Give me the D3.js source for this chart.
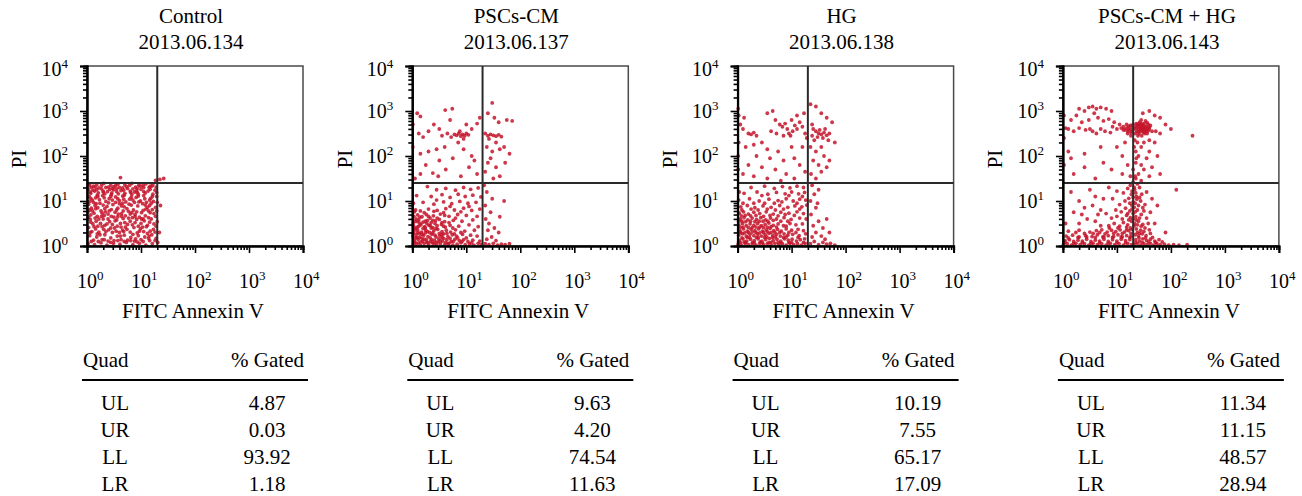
<!DOCTYPE html>
<html>
<head>
<meta charset="utf-8">
<script src="https://cdn.jsdelivr.net/npm/d3@7"></script>
<style>
  body { margin: 0; background: #fff; }
  svg { display: block; font-family: "Liberation Serif", "DejaVu Serif", serif; }
</style>
</head>
<body>
<svg></svg>
<script>
var svg = d3.select("svg")
            .attr("width", 1302)
            .attr("height", 496);

// panel titles and sample ids
var panelNames = ["Control", "PSCs-CM", "HG", "PSCs-CM + HG"];
var panelIds = ["2013.06.134", "2013.06.137", "2013.06.138", "2013.06.143"];

// quadrant table
var quadLabels = ["UL", "UR", "LL", "LR"];
var gatedControl = ["4.87", "0.03", "93.92", "1.18"];
var gatedPscs = ["9.63", "4.20", "74.54", "11.63"];
var gatedHG = ["10.19", "7.55", "65.17", "17.09"];
var gatedPscsHG = ["11.34", "11.15", "48.57", "28.94"];

// axis decades and gates (FITC / PI)
var decadeExp = [0, 1, 2, 3, 4];
var gateX = 20, gateY = 25;

// events, as [log10 FITC, log10 PI]
var dotsControl = [
 [0.05,1.38],[0.18,1.36],[0.31,1.39],[0.44,1.35],[0.57,1.37],[0.7,1.36],[0.83,1.39],[0.96,1.35],[1.09,1.38],[1.22,1.36],[0.12,1.33],[0.5,1.32],[0.9,1.31],[1.15,1.3],
 [0.02,1.26],[0.14,1.22],[0.27,1.27],[0.38,1.21],[0.49,1.25],[0.63,1.23],[0.75,1.28],[0.88,1.2],[1.0,1.26],[1.13,1.22],[1.26,1.24],[0.21,1.18],[0.58,1.16],[0.95,1.15],
 [0.04,1.1],[0.16,1.07],[0.29,1.12],[0.41,1.05],[0.53,1.09],[0.66,1.11],[0.79,1.04],[0.91,1.08],[1.05,1.12],[1.18,1.06],[1.29,1.1],[0.1,1.02],[0.35,0.99],[0.72,0.98],[1.1,0.97],
 [0.03,0.93],[0.15,0.9],[0.24,0.95],[0.37,0.88],[0.48,0.92],[0.6,0.94],[0.69,0.87],[0.82,0.91],[0.94,0.89],[1.03,0.94],[1.16,0.9],[1.27,0.86],[0.08,0.84],[0.45,0.81],[0.86,0.8],
 [0.02,0.76],[0.13,0.73],[0.26,0.78],[0.39,0.71],[0.52,0.75],[0.64,0.72],[0.77,0.77],[0.89,0.7],[1.01,0.74],[1.14,0.78],[1.24,0.72],[0.19,0.66],[0.57,0.65],[0.97,0.64],
 [0.06,0.59],[0.17,0.55],[0.3,0.6],[0.42,0.54],[0.55,0.58],[0.67,0.61],[0.8,0.55],[0.92,0.59],[1.06,0.56],[1.19,0.6],[1.3,0.54],[0.11,0.49],[0.47,0.48],[0.84,0.47],[1.12,0.46],
 [0.03,0.41],[0.16,0.38],[0.28,0.43],[0.4,0.36],[0.51,0.4],[0.63,0.42],[0.74,0.37],[0.87,0.41],[0.99,0.38],[1.1,0.43],[1.23,0.37],[0.22,0.31],[0.6,0.3],[0.93,0.29],
 [0.05,0.23],[0.18,0.2],[0.33,0.25],[0.44,0.18],[0.56,0.22],[0.69,0.24],[0.81,0.19],[0.95,0.23],[1.07,0.2],[1.2,0.25],[1.28,0.17],[0.12,0.13],[0.5,0.12],[0.88,0.11],
 [0.02,0.05],[0.14,0.03],[0.26,0.07],[0.37,0.02],[0.49,0.06],[0.61,0.04],[0.73,0.08],[0.85,0.03],[0.97,0.06],[1.09,0.02],[1.21,0.05],[1.31,0.08],
 [1.35,1.48],[1.42,1.5],[0.62,1.52],[1.27,1.46],[1.34,0.3],[1.36,0.9],
 [0.08,1.3],[0.22,1.29],[0.35,1.3],[0.47,1.28],[0.6,1.3],[0.73,1.32],[0.85,1.27],[0.99,1.33],[1.2,1.33],[0.07,1.17],[0.33,1.16],[0.45,1.14],[0.7,1.17],[0.83,1.14],[1.08,1.18],[1.22,1.15],
 [0.23,1.03],[0.47,1.02],[0.6,1.01],[0.85,1.02],[0.99,1.0],[1.23,0.99],[0.2,0.85],[0.33,0.83],[0.57,0.84],[0.74,0.83],[1.09,0.82],[1.21,0.81],[0.07,0.69],[0.32,0.68],[0.45,0.66],[0.71,0.67],
 [0.84,0.63],[1.08,0.67],[0.25,0.5],[0.37,0.49],[0.62,0.5],[0.75,0.48],[1.0,0.5],[1.24,0.49],[0.09,0.32],[0.35,0.32],[0.47,0.3],[0.8,0.31],[1.05,0.32],[1.17,0.33],[0.28,0.14],[0.39,0.11],
 [0.63,0.14],[0.75,0.13],[1.0,0.14],[1.16,0.12],
 [0.11,1.24],[0.3,1.2],[0.55,1.27],[0.8,1.22],[1.05,1.3],[0.2,1.1],[0.46,1.18],[0.68,1.04],[0.93,1.19],[1.16,1.02],[0.12,0.97],[0.4,0.96],[0.64,0.89],[0.88,0.97],[1.12,0.86],
 [0.1,0.78],[0.34,0.76],[0.58,0.71],[0.83,0.74],[1.04,0.6],[0.22,0.6],[0.5,0.64],[0.7,0.52],[0.95,0.44],[0.13,0.43],[0.44,0.4],[0.68,0.32],[1.15,0.22],[0.24,0.25],[0.62,0.22],[0.9,0.16],
 [0.04,1.34],[0.15,1.31],[0.27,1.35],[0.4,1.31],[0.53,1.34],[0.66,1.29],[0.79,1.35],[0.93,1.28],[1.04,1.35],[1.17,1.33],[1.28,1.31],
 [0.06,1.2],[0.18,1.25],[0.3,1.22],[0.42,1.26],[0.55,1.21],[0.68,1.24],[0.81,1.19],[0.92,1.23],[1.05,1.21],[1.17,1.26],[1.29,1.19],
 [0.07,1.06],[0.19,1.13],[0.32,1.07],[0.44,1.1],[0.57,1.05],[0.69,1.13],[0.82,1.08],[0.95,1.11],[1.07,1.05],[1.21,1.1],
 [0.05,0.99],[0.17,0.94],[0.3,0.91],[0.53,0.97],[0.66,0.95],[0.78,0.93],[0.96,0.98],[1.08,0.91],[1.19,0.95],[1.3,0.97],
 [0.05,0.8],[0.16,0.83],[0.28,0.73],[0.41,0.78],[0.55,0.8],[0.67,0.78],[0.8,0.71],[0.92,0.76],[1.04,0.79],[1.17,0.74],[1.29,0.78],
 [0.03,0.64],[0.15,0.62],[0.27,0.66],[0.39,0.6],[0.52,0.56],[0.64,0.66],[0.77,0.62],[0.89,0.65],[1.01,0.6],[1.14,0.63],[1.27,0.66],
 [0.07,0.53],[0.2,0.44],[0.33,0.46],[0.56,0.44],[0.71,0.42],[0.89,0.52],[1.03,0.42],[1.16,0.53],[1.28,0.44],
 [0.06,0.3],[0.19,0.27],[0.31,0.37],[0.54,0.33],[0.66,0.35],[0.85,0.26],[0.97,0.33],[1.12,0.28],[1.26,0.31],
 [0.08,0.1],[0.21,0.1],[0.32,0.14],[0.44,0.08],[0.57,0.12],[0.69,0.1],[0.81,0.12],[0.93,0.09],[1.04,0.1],[1.14,0.17],[1.26,0.12]
];

var dotsPscs = [
 [0.09,2.95],[0.15,2.88],[0.61,3.02],[0.74,3.05],[0.4,2.7],[0.3,2.55],[0.12,2.5],[0.2,2.42],[0.5,2.6],[0.55,2.45],[0.65,2.5],[0.78,2.48],[0.82,2.46],[0.86,2.5],[0.9,2.44],[0.93,2.48],
 [0.97,2.45],[1.0,2.5],[1.04,2.47],[0.72,2.42],[0.88,2.55],[0.95,2.38],[1.1,2.6],[1.2,2.72],[1.25,2.85],[0.7,2.8],[1.0,2.7],[0.85,2.3],[0.6,2.2],[0.45,2.15],[0.3,2.1],[0.15,2.05],
 [0.95,2.15],[1.1,2.0],[0.75,1.95],[0.5,1.9],[0.25,1.8],[1.05,1.75],[0.62,1.7],[0.38,1.62],[0.15,1.6],[0.9,1.55],[1.2,1.6],[0.05,1.5],[0.48,1.55],[1.15,1.9],[0.01,2.7],[0.01,2.2],
 [1.48,3.18],[1.4,2.95],[1.52,2.85],[1.6,2.75],[1.75,2.8],[1.85,2.78],[1.35,2.5],[1.4,2.45],[1.45,2.48],[1.5,2.46],[1.55,2.44],[1.6,2.47],[1.65,2.43],[1.42,2.38],[1.55,2.3],[1.38,2.2],
 [1.48,2.1],[1.62,2.15],[1.7,2.2],[1.45,1.95],[1.4,1.85],[1.55,1.75],[1.35,1.65],[1.62,1.55],[1.5,1.5],[1.8,2.05],[1.72,1.85],
 [0.02,0.03],[0.08,0.05],[0.15,0.02],[0.22,0.06],[0.3,0.03],[0.37,0.07],[0.45,0.02],[0.52,0.05],[0.6,0.03],[0.68,0.06],[0.75,0.02],[0.83,0.04],[0.9,0.07],[0.98,0.03],[1.06,0.05],[1.14,0.02],[1.22,0.06],[1.28,0.03],
 [0.04,0.12],[0.11,0.15],[0.19,0.11],[0.26,0.14],[0.34,0.1],[0.41,0.13],[0.49,0.16],[0.56,0.11],[0.64,0.14],[0.72,0.1],[0.79,0.15],[0.87,0.12],[0.95,0.14],[1.03,0.1],[1.12,0.13],[1.25,0.11],
 [0.01,0.22],[0.07,0.25],[0.14,0.2],[0.21,0.24],[0.29,0.21],[0.36,0.26],[0.44,0.2],[0.51,0.23],[0.58,0.27],[0.66,0.21],[0.74,0.25],[0.82,0.22],[0.93,0.26],[1.08,0.24],[1.2,0.22],
 [0.03,0.33],[0.1,0.36],[0.17,0.31],[0.25,0.35],[0.32,0.3],[0.4,0.34],[0.47,0.37],[0.55,0.32],[0.63,0.35],[0.71,0.31],[0.8,0.36],[0.97,0.33],[1.15,0.35],
 [0.02,0.45],[0.09,0.42],[0.16,0.47],[0.23,0.43],[0.31,0.46],[0.38,0.41],[0.46,0.45],[0.54,0.48],[0.61,0.42],[0.7,0.46],[0.86,0.44],[1.05,0.47],[1.22,0.43],
 [0.05,0.55],[0.12,0.58],[0.2,0.53],[0.28,0.57],[0.35,0.52],[0.43,0.56],[0.5,0.59],[0.6,0.54],[0.76,0.57],[0.92,0.55],[1.12,0.58],
 [0.03,0.66],[0.1,0.69],[0.18,0.65],[0.26,0.7],[0.39,0.67],[0.52,0.71],[0.68,0.66],[0.84,0.7],[1.0,0.68],[1.2,0.66],
 [0.06,0.8],[0.15,0.78],[0.3,0.82],[0.46,0.79],[0.62,0.83],[0.78,0.8],[0.95,0.84],[1.1,0.79],[1.25,0.82],
 [0.02,0.95],[0.2,0.97],[0.4,0.93],[0.58,0.98],[0.73,0.94],[0.88,0.99],[1.03,0.95],[1.18,0.97],
 [0.08,1.12],[0.35,1.1],[0.55,1.14],[0.7,1.08],[0.85,1.15],[0.98,1.1],[1.12,1.13],[1.27,1.09],
 [0.45,1.25],[0.62,1.28],[0.8,1.24],[0.95,1.3],[1.08,1.26],[1.22,1.29],[0.28,1.32],
 [0.05,0.08],[0.12,0.07],[0.18,0.17],[0.27,0.09],[0.33,0.18],[0.4,0.05],[0.48,0.09],[0.55,0.19],[0.62,0.08],[0.7,0.17],[0.06,0.18],[0.13,0.28],[0.24,0.29],[0.38,0.29],[0.5,0.28],
 [0.06,0.38],[0.2,0.39],[0.35,0.4],[0.14,0.5],[0.27,0.5],[0.42,0.5],[0.07,0.6],[0.33,0.62],
 [1.35,0.05],[1.42,0.03],[1.5,0.06],[1.58,0.02],[1.65,0.04],[1.72,0.03],[1.8,0.05],[1.38,0.15],[1.47,0.2],[1.55,0.12],[1.4,0.35],[1.52,0.4],[1.36,0.6],[1.45,0.75],[1.6,0.3],[1.35,0.9],
 [1.48,1.05],[1.38,1.2],[1.7,1.0],[1.62,0.65],[1.33,1.35],[1.42,0.5],
 [0.03,0.08],[0.09,0.19],[0.16,0.09],[0.22,0.15],[0.29,0.07],[0.36,0.14],[0.44,0.08],[0.52,0.12],[0.58,0.17],[0.66,0.05],[0.76,0.1],[0.84,0.18],[0.92,0.1],[1.0,0.18],[1.1,0.07],
 [0.02,0.28],[0.1,0.3],[0.18,0.26],[0.28,0.32],[0.42,0.24],[0.55,0.25],[0.64,0.28],[0.78,0.27],[0.9,0.3],
 [0.04,0.4],[0.12,0.44],[0.24,0.4],[0.33,0.46],[0.44,0.39],[0.58,0.44],[0.75,0.4],
 [0.02,0.51],[0.1,0.54],[0.24,0.55],[0.38,0.57],[0.55,0.52],[0.68,0.52],
 [0.14,0.64],[0.3,0.66],[0.46,0.62],[0.6,0.68],[0.8,0.62],[0.04,0.76],[0.22,0.74],[0.4,0.77],[0.58,0.74],[0.9,0.76],[1.05,0.88],[0.7,0.88],[0.45,1.02]
];

var dotsHG = [
 [0.02,2.9],[0.05,2.7],[0.1,2.6],[0.2,2.5],[0.25,2.48],[0.3,2.52],[0.35,2.45],[0.12,2.85],[0.55,2.95],[0.65,3.0],[0.7,2.8],[0.78,2.7],[0.83,2.65],[0.88,2.72],[0.92,2.6],[0.95,2.5],
 [0.98,2.45],[1.02,2.55],[1.06,2.68],[1.1,2.6],[1.15,2.75],[1.2,2.65],[1.25,2.5],[1.28,2.4],[1.0,2.8],[1.1,2.9],[1.23,2.95],[0.72,2.5],[0.85,2.45],[0.62,2.55],[0.45,2.3],[0.3,2.25],
 [0.15,2.2],[0.55,2.15],[0.75,2.1],[1.0,2.2],[1.2,2.2],[0.35,2.0],[0.6,1.95],[0.85,1.9],[1.05,1.95],[0.2,1.8],[0.45,1.75],[0.7,1.7],[1.15,1.8],[0.1,1.6],[0.3,1.55],[0.9,1.6],
 [1.25,1.65],[0.55,1.5],[0.03,1.2],[0.02,2.3],[1.05,1.5],[0.8,1.45],[0.01,3.05],[0.01,2.0],[0.01,1.7],
 [1.35,3.15],[1.45,3.1],[1.55,2.95],[1.65,2.85],[1.75,2.75],[1.4,2.6],[1.45,2.55],[1.5,2.5],[1.55,2.48],[1.6,2.52],[1.65,2.46],[1.7,2.5],[1.48,2.42],[1.58,2.4],[1.52,2.58],[1.62,2.6],
 [1.42,2.35],[1.38,2.7],[1.35,2.2],[1.45,2.1],[1.55,2.2],[1.6,2.0],[1.4,1.9],[1.5,1.8],[1.65,1.75],[1.36,1.6],[1.45,1.5],[1.55,1.65],[1.7,1.9],[1.8,2.3],[1.38,2.45],[1.68,2.35],
 [0.01,0.04],[0.07,0.02],[0.14,0.06],[0.2,0.03],[0.27,0.05],[0.34,0.02],[0.41,0.06],[0.48,0.03],[0.55,0.05],[0.62,0.02],[0.69,0.06],[0.76,0.03],[0.83,0.05],[0.9,0.02],[0.97,0.06],[1.04,0.03],[1.11,0.05],[1.18,0.02],[1.25,0.06],
 [0.03,0.13],[0.1,0.16],[0.17,0.11],[0.24,0.15],[0.31,0.12],[0.38,0.16],[0.45,0.11],[0.52,0.14],[0.59,0.17],[0.66,0.12],[0.73,0.15],[0.8,0.11],[0.87,0.16],[0.94,0.13],[1.01,0.15],[1.09,0.11],[1.16,0.14],[1.24,0.16],
 [0.02,0.24],[0.09,0.27],[0.16,0.22],[0.23,0.26],[0.3,0.23],[0.37,0.27],[0.44,0.22],[0.51,0.25],[0.58,0.28],[0.65,0.23],[0.72,0.26],[0.79,0.22],[0.86,0.27],[0.93,0.24],[1.02,0.26],[1.14,0.23],[1.26,0.27],
 [0.04,0.35],[0.11,0.38],[0.18,0.33],[0.25,0.37],[0.32,0.34],[0.39,0.38],[0.46,0.33],[0.53,0.36],[0.6,0.39],[0.67,0.34],[0.74,0.37],[0.81,0.33],[0.9,0.38],[1.0,0.35],[1.12,0.37],[1.22,0.34],
 [0.02,0.47],[0.09,0.5],[0.16,0.45],[0.23,0.49],[0.3,0.46],[0.37,0.5],[0.44,0.45],[0.51,0.48],[0.58,0.51],[0.66,0.46],[0.75,0.49],[0.85,0.45],[0.97,0.5],[1.08,0.47],[1.2,0.49],
 [0.05,0.6],[0.12,0.63],[0.19,0.58],[0.27,0.62],[0.35,0.59],[0.43,0.63],[0.52,0.58],[0.61,0.62],[0.72,0.6],[0.86,0.63],[0.99,0.59],[1.15,0.62],[1.27,0.6],
 [0.03,0.73],[0.11,0.76],[0.2,0.71],[0.3,0.75],[0.41,0.72],[0.53,0.76],[0.66,0.71],[0.8,0.75],[0.95,0.73],[1.1,0.76],[1.22,0.72],
 [0.06,0.87],[0.18,0.9],[0.32,0.85],[0.47,0.89],[0.62,0.86],[0.78,0.9],[0.93,0.86],[1.06,0.89],[1.19,0.87],[1.28,0.91],
 [0.02,1.02],[0.22,1.05],[0.4,1.0],[0.58,1.04],[0.75,1.01],[0.9,1.05],[1.03,1.0],[1.15,1.04],[1.26,1.02],
 [0.12,1.17],[0.36,1.2],[0.56,1.15],[0.72,1.19],[0.88,1.16],[1.0,1.2],[1.13,1.16],[1.24,1.19],
 [0.25,1.3],[0.5,1.33],[0.68,1.28],[0.83,1.32],[0.97,1.29],[1.1,1.33],[1.22,1.3],
 [0.05,0.08],[0.12,0.09],[0.18,0.19],[0.28,0.08],[0.35,0.19],[0.42,0.09],[0.5,0.19],[0.58,0.08],[0.65,0.19],[0.75,0.08],[0.85,0.19],[0.95,0.08],[0.06,0.3],[0.2,0.3],[0.34,0.3],[0.48,0.3],
 [0.62,0.3],[0.1,0.42],[0.27,0.41],[0.41,0.42],[0.55,0.42],[0.15,0.54],[0.32,0.54],[0.47,0.55],[0.07,0.67],[0.24,0.67],
 [1.35,0.05],[1.42,0.1],[1.5,0.03],[1.58,0.08],[1.65,0.04],[1.72,0.06],[1.8,0.02],[1.38,0.2],[1.45,0.3],[1.55,0.22],[1.62,0.15],[1.4,0.45],[1.5,0.55],[1.36,0.7],[1.45,0.85],[1.58,0.4],
 [1.35,1.0],[1.42,1.15],[1.5,1.25],[1.38,1.35],[1.65,0.6],[1.7,0.3],[1.48,0.95],
 [0.02,0.09],[0.08,0.18],[0.15,0.08],[0.22,0.19],[0.31,0.07],[0.38,0.2],[0.46,0.07],[0.54,0.2],[0.62,0.08],[0.7,0.2],[0.8,0.07],[0.9,0.2],[1.0,0.08],[1.12,0.19],[1.22,0.08],
 [0.03,0.3],[0.13,0.29],[0.27,0.31],[0.41,0.29],[0.55,0.32],[0.69,0.3],[0.78,0.3],[0.95,0.3],[1.08,0.3],
 [0.05,0.42],[0.2,0.41],[0.34,0.42],[0.48,0.41],[0.62,0.43],[0.72,0.42],[0.9,0.44],
 [0.02,0.55],[0.08,0.55],[0.24,0.55],[0.4,0.55],[0.56,0.55],[0.66,0.57],[0.8,0.55],[0.93,0.55],
 [0.14,0.68],[0.34,0.68],[0.48,0.66],[0.6,0.68],[0.75,0.67],[0.88,0.7],[1.05,0.68],
 [0.08,0.8],[0.25,0.82],[0.38,0.8],[0.55,0.82],[0.7,0.8],[0.85,0.82],[1.15,0.82],
 [0.1,0.95],[0.3,0.95],[0.5,0.95],[0.68,0.95],[0.82,0.98],[1.1,0.95],[1.2,1.1],[0.95,1.12],[0.45,1.12]
];

var dotsPscsHG = [
 [0.3,3.05],[0.4,3.0],[0.48,3.08],[0.55,3.1],[0.62,3.05],[0.7,3.08],[0.8,3.05],[0.9,3.0],[0.58,2.95],[0.25,2.9],[0.15,2.8],[0.35,2.75],[0.48,2.8],[0.65,2.85],[0.75,2.78],[0.85,2.82],
 [0.95,2.75],[1.05,2.7],[1.12,2.65],[1.18,2.7],[1.22,2.6],[1.25,2.68],[1.15,2.58],[1.08,2.62],[1.28,2.55],[1.2,2.5],[1.0,2.6],[0.92,2.65],[0.7,2.6],[0.5,2.6],[0.55,2.55],[0.42,2.58],
 [0.3,2.62],[0.2,2.55],[0.1,2.6],[0.05,2.62],[0.78,2.55],[0.62,2.5],[0.88,2.52],[1.26,2.45],[0.02,2.9],[0.02,2.4],[0.1,2.1],[0.15,1.95],[0.4,2.05],[0.4,1.75],[0.75,1.85],[0.7,2.2],
 [1.0,2.2],[1.1,2.0],[1.2,1.8],[1.1,1.6],[0.9,1.7],[0.2,1.6],[0.6,1.5],[1.25,1.55],[1.15,2.3],[0.02,1.8],
 [1.32,2.6],[1.35,2.65],[1.38,2.7],[1.4,2.6],[1.42,2.75],[1.44,2.55],[1.46,2.68],[1.48,2.62],[1.5,2.72],[1.52,2.58],[1.54,2.66],[1.56,2.5],[1.58,2.7],[1.6,2.6],[1.37,2.55],[1.41,2.5],
 [1.45,2.8],[1.49,2.52],[1.53,2.78],[1.57,2.62],[1.36,2.72],[1.43,2.64],[1.47,2.58],[1.51,2.66],[1.55,2.56],[1.62,2.68],[1.65,2.55],[1.39,2.45],[1.46,2.45],[1.34,2.5],
 [1.36,2.62],[1.4,2.68],[1.44,2.72],[1.48,2.7],[1.5,2.6],[1.54,2.6],[1.58,2.56],[1.52,2.5],[1.44,2.6],[1.4,2.54],[1.46,2.62],[1.56,2.74],[1.42,2.68],[1.5,2.55],[1.6,2.64],
 [1.18,2.62],[1.22,2.66],[1.25,2.58],[1.28,2.64],[1.3,2.7],[1.2,2.55],[1.26,2.52],[1.12,2.58],
 [1.48,2.95],[1.6,3.0],[1.7,2.9],[1.8,2.85],[1.9,2.7],[2.0,2.6],[1.72,2.55],[1.8,2.5],[2.4,2.45],[1.7,2.3],[1.6,2.35],[1.5,2.3],[1.45,2.2],[1.6,2.1],[1.4,2.0],[1.55,1.95],
 [1.75,2.0],[1.45,1.8],[1.5,1.7],[1.4,1.6],[1.6,1.55],[1.35,1.5],[1.45,1.45],[1.8,1.6],[1.65,1.75],[1.35,1.85],[1.38,2.3],[1.35,2.1],
 [0.01,0.03],[0.08,0.05],[0.16,0.02],[0.24,0.06],[0.32,0.03],[0.4,0.05],[0.48,0.02],[0.56,0.06],[0.64,0.03],[0.72,0.05],[0.8,0.02],[0.88,0.06],[0.96,0.03],[1.04,0.05],[1.12,0.02],[1.2,0.06],[1.27,0.03],
 [0.04,0.12],[0.12,0.14],[0.2,0.1],[0.28,0.13],[0.36,0.11],[0.44,0.15],[0.52,0.1],[0.6,0.13],[0.68,0.11],[0.76,0.15],[0.84,0.1],[0.92,0.14],[1.0,0.11],[1.08,0.15],[1.16,0.12],[1.24,0.14],
 [0.06,0.22],[0.18,0.24],[0.3,0.2],[0.42,0.23],[0.54,0.21],[0.64,0.25],[0.74,0.2],[0.84,0.23],[0.94,0.21],[1.02,0.25],[1.1,0.2],[1.18,0.23],[1.26,0.21],
 [0.1,0.33],[0.3,0.35],[0.5,0.31],[0.62,0.34],[0.72,0.36],[0.82,0.31],[0.9,0.35],[0.98,0.32],[1.06,0.36],[1.14,0.31],[1.22,0.34],[1.28,0.37],
 [0.85,0.45],[0.95,0.5],[1.05,0.44],[1.12,0.52],[1.2,0.47],[1.27,0.55],[0.9,0.62],[1.0,0.66],[1.1,0.6],[1.18,0.68],[1.25,0.63],[0.8,0.72],[0.98,0.8],[1.08,0.76],[1.16,0.84],[1.24,0.78],
 [1.28,0.9],[1.05,0.92],[1.15,1.0],[1.22,1.06],[1.27,1.15],[1.12,1.18],[1.2,1.28],[1.25,1.35],[0.92,1.05],[1.0,1.22],
 [0.3,0.5],[0.45,0.6],[0.6,0.55],[0.7,0.45],[0.2,0.75],[0.4,0.85],[0.55,0.9],[0.7,0.8],[0.3,1.0],[0.6,1.1],[0.75,1.05],[0.5,1.25],[0.85,1.3],[0.15,1.2],[0.05,0.5],[0.65,0.7],[0.35,0.7],
 [1.18,0.42],[1.25,0.4],[1.32,0.45],[1.38,0.47],[1.3,0.6],[1.36,0.58],[1.22,0.58],[1.3,0.72],[1.34,0.76],[1.2,0.72],[1.28,0.82],[1.32,0.86],[1.4,0.9],[1.3,0.98],[1.37,1.04],[1.24,0.95],
 [1.3,1.08],[1.35,1.18],[1.28,1.22],[1.32,1.3],[1.38,1.38],[1.3,1.42],[1.34,1.55],[1.3,1.7],[1.36,1.95],[1.32,2.2],[1.33,2.35],[1.42,0.62],[1.5,0.78],[1.42,1.08],
 [0.04,0.08],[0.1,0.18],[0.2,0.06],[0.28,0.19],[0.36,0.07],[0.44,0.2],[0.52,0.06],[0.6,0.19],[0.68,0.07],[0.76,0.2],[0.84,0.06],[0.92,0.19],[1.0,0.07],[1.08,0.2],[1.16,0.07],[1.24,0.19],
 [0.24,0.3],[0.4,0.28],[0.56,0.28],[0.68,0.3],[0.78,0.27],[0.86,0.4],[0.94,0.28],[1.02,0.4],[1.1,0.28],[1.18,0.36],[1.26,0.28],
 [1.32,0.03],[1.38,0.06],[1.44,0.02],[1.5,0.05],[1.56,0.03],[1.62,0.06],[1.68,0.02],[1.74,0.05],[1.8,0.03],[1.88,0.04],[1.96,0.02],[2.05,0.03],[2.15,0.02],[2.3,0.03],[1.35,0.14],[1.42,0.11],
 [1.48,0.16],[1.55,0.12],[1.62,0.15],[1.7,0.11],[1.78,0.14],[1.34,0.25],[1.4,0.22],[1.47,0.27],[1.54,0.23],[1.62,0.28],[1.36,0.38],[1.44,0.35],[1.52,0.4],[1.6,0.36],[1.33,0.5],[1.4,0.55],
 [1.48,0.48],[1.35,0.65],[1.45,0.7],[1.55,0.62],[1.38,0.8],[1.48,0.85],[1.34,0.95],[1.44,1.0],[1.52,0.92],[1.36,1.1],[1.46,1.15],[1.33,1.25],[1.42,1.3],[1.55,1.2],[1.62,0.75],[1.7,0.5],
 [1.75,0.9],[1.9,0.3],[2.1,1.25],[1.65,1.05],
 [1.35,0.08],[1.41,0.18],[1.47,0.08],[1.53,0.18],[1.59,0.09],[1.66,0.19],[1.72,0.08],[1.84,0.09],[1.38,0.3],[1.5,0.32],[1.45,0.44],[1.58,0.5],[1.42,0.28]
];

var panelDots = [dotsControl, dotsPscs, dotsHG, dotsPscsHG];
var panelGated = [gatedControl, gatedPscs, gatedHG, gatedPscsHG];

var plotW = 216, plotH = 180, plotTop = 66;
var fontSize = 21, tickFont = 20;

var x = d3.scaleLog().domain([1, 10000]).range([0, plotW]),
    y = d3.scaleLog().domain([1, 10000]).range([plotH, 0]);

var majorTicks = decadeExp.map(function(e) { return Math.pow(10, e); });
var minorTicks = [];
decadeExp.slice(0, 4).forEach(function(e) {
    for (var m = 2; m < 10; m++) minorTicks.push(m * Math.pow(10, e));
});

//write 10^n as text with a raised exponent
function powText(sel, e) {
    sel.append("tspan").text("10");
    sel.append("tspan").attr("dy", "-0.6em").style("font-size", "13px").text(e);
}

panelNames.forEach(function(name, i) {
    var left = 87 + i * 325.3;
    var g = svg.append("g").attr("transform", "translate(" + left + "," + plotTop + ")");

    //titles
    g.append("text").attr("x", plotW / 2 - 4).attr("y", 23 - plotTop)
        .attr("text-anchor", "middle").style("font-size", fontSize + "px").text(name);
    g.append("text").attr("x", plotW / 2 - 4).attr("y", 49 - plotTop)
        .attr("text-anchor", "middle").style("font-size", fontSize + "px").text(panelIds[i]);

    //dots
    g.append("g").selectAll("circle")
        .data(panelDots[i])
        .enter().append("circle")
        .attr("cx", function(d) { return x(Math.pow(10, d[0])); })
        .attr("cy", function(d) { return y(Math.pow(10, d[1])); })
        .attr("r", 1.9)
        .style("fill", "#c4142a")
        .style("opacity", 0.85);

    //box
    g.append("rect").attr("width", plotW).attr("height", plotH)
        .style("fill", "none").style("stroke", "#4a4a4a").style("stroke-width", 1.5);

    //quadrant gates
    g.append("line").attr("x1", x(gateX)).attr("x2", x(gateX)).attr("y1", 0).attr("y2", plotH)
        .style("stroke", "#2a2a2a").style("stroke-width", 2);
    g.append("line").attr("x1", 0).attr("x2", plotW).attr("y1", y(gateY)).attr("y2", y(gateY))
        .style("stroke", "#2a2a2a").style("stroke-width", 2);

    //y axis
    var yMinor = g.append("g").call(d3.axisLeft(y).tickValues(minorTicks).tickSize(4).tickFormat(""));
    var yMajor = g.append("g").call(d3.axisLeft(y).tickValues(majorTicks).tickSize(7).tickFormat(""));
    //x axis
    var xMinor = g.append("g").attr("transform", "translate(0," + plotH + ")")
        .call(d3.axisBottom(x).tickValues(minorTicks).tickSize(4).tickFormat(""));
    var xMajor = g.append("g").attr("transform", "translate(0," + plotH + ")")
        .call(d3.axisBottom(x).tickValues(majorTicks).tickSize(7).tickFormat(""));

    [yMinor, yMajor, xMinor, xMajor].forEach(function(a) {
        a.selectAll("line").style("stroke", "#000").style("stroke-width", 1.6);
        a.select(".domain").style("stroke", "#000").style("stroke-width", 2);
    });

    decadeExp.forEach(function(e) {
        var t = g.append("text")
            .attr("x", -19)
            .attr("y", y(Math.pow(10, e)) + 7 + (e === 4 ? 3 : 0))
            .attr("text-anchor", "end")
            .style("font-size", tickFont + "px");
        powText(t, e);
        var tx = g.append("text")
            .attr("x", x(Math.pow(10, e)) - 10)
            .attr("y", plotH + 42)
            .style("font-size", tickFont + "px");
        powText(tx, e);
    });

    //axis titles
    g.append("text")
        .attr("transform", "translate(-68," + (plotH / 2 + 3) + ") rotate(-90)")
        .attr("text-anchor", "middle").attr("dy", "0.35em")
        .style("font-size", fontSize + "px").text("PI");
    g.append("text").attr("x", plotW / 2 - 2).attr("y", 318 - plotTop)
        .attr("text-anchor", "middle").style("font-size", fontSize + "px").text("FITC Annexin V");

    //quadrant table
    var tb = svg.append("g").attr("transform", "translate(" + left + ",0)");
    tb.append("text").attr("x", -4).attr("y", 367).style("font-size", fontSize + "px").text("Quad");
    tb.append("text").attr("x", 217).attr("y", 367).attr("text-anchor", "end")
        .style("font-size", fontSize + "px").text("% Gated");
    tb.append("line").attr("x1", -5).attr("x2", 221).attr("y1", 380).attr("y2", 380)
        .style("stroke", "#000").style("stroke-width", 2);
    quadLabels.forEach(function(q, j) {
        var rowY = 410 + j * 27;
        tb.append("text").attr("x", 28).attr("y", rowY).attr("text-anchor", "middle")
            .style("font-size", fontSize + "px").text(q);
        tb.append("text").attr("x", 180).attr("y", rowY).attr("text-anchor", "middle")
            .style("font-size", fontSize + "px").text(panelGated[i][j]);
    });
});
</script>
</body>
</html>
